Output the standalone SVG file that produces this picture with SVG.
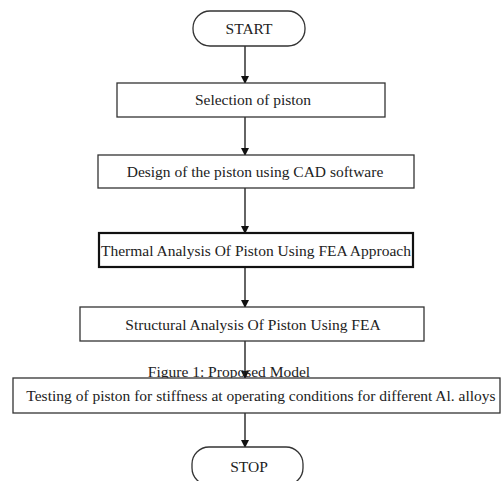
<svg xmlns="http://www.w3.org/2000/svg" width="502" height="481" viewBox="0 0 502 481">
<defs>
<marker id="ah" markerWidth="8" markerHeight="10" refX="7" refY="5" orient="auto" markerUnits="userSpaceOnUse">
<path d="M0,1 L8,5 L0,9 Z" fill="#111"/>
</marker>
<style>
.box{fill:#fff;stroke:#333;stroke-width:1.3}
.bold{fill:#fff;stroke:#111;stroke-width:2.2}
.t{font-family:"Liberation Serif","Times New Roman",serif;font-size:15.5px;fill:#222;text-anchor:middle}
.c{stroke:#111;stroke-width:1.3;fill:none;marker-end:url(#ah)}
</style>
</defs>
<rect width="502" height="481" fill="#fff"/>
<g id="connectors">
<line class="c" x1="245" y1="46" x2="245" y2="83"/>
<line class="c" x1="245" y1="117" x2="245" y2="155"/>
<line class="c" x1="245" y1="188" x2="245" y2="233"/>
<line class="c" x1="245" y1="267" x2="245" y2="307"/>
<line class="c" x1="245" y1="341" x2="245" y2="378"/>
<line class="c" x1="245" y1="413" x2="245" y2="447"/>
</g>
<g id="start">
<rect class="box" x="193" y="11" width="112" height="35" rx="17" ry="17"/>
<text class="t" x="249" y="34">START</text>
</g>
<g id="selection">
<rect class="box" x="117" y="83" width="268" height="34"/>
<text class="t" x="253" y="105">Selection of piston</text>
</g>
<g id="design">
<rect class="box" x="98" y="155" width="316" height="33"/>
<text class="t" x="255" y="177">Design of the piston using CAD software</text>
</g>
<g id="thermal">
<rect class="bold" x="99" y="233" width="314" height="34"/>
<text class="t" x="256" y="256">Thermal Analysis Of Piston Using FEA Approach</text>
</g>
<g id="structural">
<rect class="box" x="80" y="307" width="344" height="34"/>
<text class="t" x="253" y="330">Structural Analysis Of Piston Using FEA</text>
</g>
<g id="caption">
<text class="t" x="229" y="377">Figure 1: Proposed Model</text>
</g>
<g id="testing">
<rect class="box" x="13" y="378" width="487" height="35"/>
<text class="t" x="261" y="401">Testing of piston for stiffness at operating conditions for different Al. alloys</text>
</g>
<g id="stop">
<rect class="box" x="192" y="447" width="111" height="38" rx="17" ry="17"/>
<text class="t" x="249" y="472">STOP</text>
</g>
</svg>
